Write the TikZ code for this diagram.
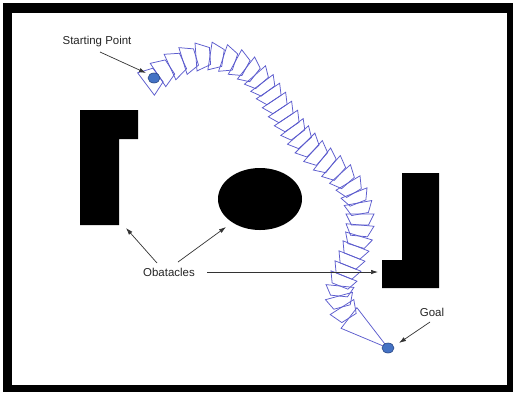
\documentclass[tikz,border=0pt]{standalone}
\usepackage{fontspec}
\setmainfont{Liberation Sans}
\usetikzlibrary{calc,arrows.meta,shapes.geometric}
\definecolor{linkblue}{RGB}{92,92,206}
\definecolor{dotfill}{RGB}{68,114,196}
\definecolor{dotedge}{RGB}{40,70,130}
\begin{document}
\begin{tikzpicture}[x=1bp,y=-1bp,
  linkpoly/.style={draw=linkblue,line width=0.75bp,line join=miter},
  wall/.style={fill=black},
  pointdot/.style={ellipse,minimum width=12bp,minimum height=10bp,inner sep=0pt,
    fill=dotfill,draw=dotedge,line width=0.6bp},
  lbl/.style={inner sep=0pt,font=\fontsize{11.5}{13}\selectfont,text=black!85},
  arr/.style={-{Latex[length=7bp,width=4.5bp]},line width=0.7bp,draw=black!80}]
\useasboundingbox (0,0) rectangle (515,393);

% outer frame
\fill[black] (3,3) rectangle (513,392);
\fill[white] (12,13) rectangle (507,385);

% obstacles
\fill[wall] (80,110) -- (138,110) -- (138,139) -- (119,139) -- (119,225) -- (80,225) -- cycle;
\fill[wall] (402,173) -- (439,173) -- (439,288) -- (382,288) -- (382,260) -- (402,260) -- cycle;
\fill[wall] (260,199) ellipse [x radius=42, y radius=31];

% centre line of the chain of links
\foreach \px/\py [count=\i from 0] in {146/84,158/75,170/67,183/61,196/57,210/56,
  223/58,235/62,246/68,255/75,262/83,268/91,274/100,280/109,286/118,
  292/127,298/135,305/143,313/151,322/159,331/166,340/174,348/183,
  354/193,358/203,360/214,360/225,359/236,356/246,352/256,348/266,
  344/276,340/286,339/296,342/307,349/318}
  \coordinate (p\i) at (\px,\py);

% goal position
\coordinate (goalpt) at (388,348);

% tapered links: wide back end, narrow front end
\foreach \i in {0,...,34}{
  \pgfmathtruncatemacro{\j}{\i+1}
  \draw[linkpoly] ($(p\i)!14bp!90:(p\j)$) -- ($(p\j)!8.5bp!-90:(p\i)$)
    -- ($(p\j)!8.5bp!90:(p\i)$) -- ($(p\i)!14bp!-90:(p\j)$) -- cycle;
}
% last link narrows to the goal
\draw[linkpoly] ($(p35)!13bp!90:(goalpt)$) -- (goalpt) -- ($(p35)!13bp!-90:(goalpt)$) -- cycle;

% markers
\node[pointdot] (start) at (154,78) {};
\node[pointdot] (goal) at (goalpt) {};

% labels
\node[lbl] (startlbl) at (97,42) {Starting Point};
\node[lbl] (goallbl) at (432,312) {Goal};
\node[lbl] (obslbl) at (169,272) {Obatacles};

% arrow ends
\coordinate (sTail) at (100,52);
\coordinate (sHead) at (146,73);
\coordinate (gTail) at (430,322);
\coordinate (gHead) at (399,343);
\coordinate (o1Tail) at (157,263);
\coordinate (o1Head) at (126,228);
\coordinate (o2Tail) at (178,262);
\coordinate (o2Head) at (226,227);
\coordinate (o3Tail) at (207,272);
\coordinate (o3Head) at (378,272);

\draw[arr] (sTail) -- (sHead);
\draw[arr] (gTail) -- (gHead);
\draw[arr] (o1Tail) -- (o1Head);
\draw[arr] (o2Tail) -- (o2Head);
\draw[arr] (o3Tail) -- (o3Head);
\end{tikzpicture}
\end{document}
